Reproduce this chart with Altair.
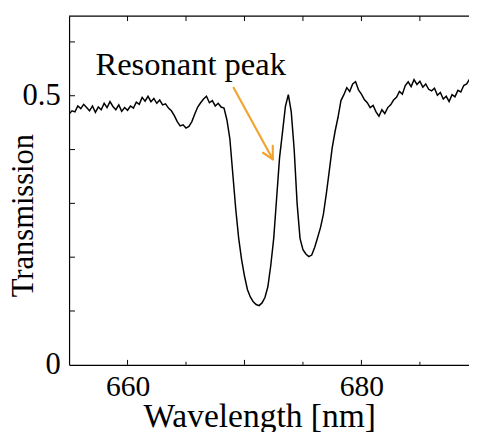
import altair as alt
import pandas as pd

# ---- data ----
wavelength = [
    655.00, 655.25, 655.50, 655.75, 656.00, 656.25, 656.50, 656.75,
    657.00, 657.25, 657.50, 657.75, 658.00, 658.25, 658.50, 658.75,
    659.00, 659.25, 659.50, 659.75, 660.00, 660.25, 660.50, 660.75,
    661.00, 661.25, 661.50, 661.75, 662.00, 662.25, 662.50, 662.75,
    663.00, 663.25, 663.50, 663.75, 664.00, 664.25, 664.50, 664.75,
    665.00, 665.25, 665.50, 665.75, 666.00, 666.25, 666.50, 666.75,
    667.00, 667.25, 667.50, 667.75, 668.00, 668.25, 668.50, 668.75,
    669.00, 669.25, 669.50, 669.75, 670.00, 670.25, 670.50, 670.75,
    671.00, 671.25, 671.50, 671.75, 672.00, 672.25, 672.50, 672.75,
    673.00, 673.25, 673.50, 673.75, 674.00, 674.25, 674.50, 674.75,
    675.00, 675.25, 675.50, 675.75, 676.00, 676.25, 676.50, 676.75,
    677.00, 677.25, 677.50, 677.75, 678.00, 678.25, 678.50, 678.75,
    679.00, 679.25, 679.50, 679.75, 680.00, 680.25, 680.50, 680.75,
    681.00, 681.25, 681.50, 681.75, 682.00, 682.25, 682.50, 682.75,
    683.00, 683.25, 683.50, 683.75, 684.00, 684.25, 684.50, 684.75,
    685.00, 685.25, 685.50, 685.75, 686.00, 686.25, 686.50, 686.75,
    687.00, 687.25, 687.50, 687.75, 688.00, 688.25, 688.50, 688.75,
    689.00, 689.25,
]
transmission = [
    0.466, 0.472, 0.470, 0.481, 0.476, 0.484, 0.478, 0.472,
    0.481, 0.469, 0.479, 0.474, 0.486, 0.478, 0.489, 0.480,
    0.474, 0.483, 0.471, 0.478, 0.473, 0.481, 0.477, 0.488,
    0.484, 0.497, 0.490, 0.499, 0.489, 0.495, 0.486, 0.492,
    0.483, 0.485, 0.477, 0.472, 0.463, 0.452, 0.444, 0.446,
    0.440, 0.443, 0.452, 0.466, 0.479, 0.487, 0.494, 0.499,
    0.487, 0.491, 0.481, 0.486, 0.479, 0.477, 0.455, 0.420,
    0.355, 0.290, 0.236, 0.196, 0.165, 0.140, 0.126, 0.117,
    0.112, 0.110, 0.115, 0.125, 0.145, 0.185, 0.235, 0.310,
    0.385, 0.432, 0.480, 0.502, 0.470, 0.400, 0.300, 0.235,
    0.214, 0.206, 0.201, 0.204, 0.218, 0.236, 0.255, 0.280,
    0.318, 0.360, 0.403, 0.434, 0.460, 0.491, 0.502, 0.515,
    0.508, 0.522, 0.526, 0.511, 0.503, 0.493, 0.487, 0.478,
    0.482, 0.470, 0.462, 0.474, 0.467, 0.478, 0.483, 0.492,
    0.497, 0.508, 0.503, 0.519, 0.526, 0.517, 0.530, 0.521,
    0.527, 0.516, 0.522, 0.512, 0.509, 0.514, 0.501, 0.506,
    0.494, 0.499, 0.489, 0.502, 0.498, 0.510, 0.507, 0.519,
    0.522, 0.531,
]

x_labels = [660, 680]
x_major = [660, 670, 680]
x_minor = [665, 675, 685]
x_top = [660, 665, 670, 675, 680, 685]
y_labels = [0, 0.5]
y_ticks = [0.1, 0.2, 0.3, 0.4, 0.5, 0.6]

annotation_text = "Resonant peak"
annotation_pos = (665.4, 0.538)
# arrow segments: shaft + two head wings (wavelength, transmission)
arrow_x = [669.07, 671.58, 672.42]
arrow_y = [0.515, 0.394, 0.407]
arrow_x2 = [672.42, 672.42, 672.42]
arrow_y2 = [0.382, 0.382, 0.382]

X_DOMAIN = [655, 689.2]
Y_DOMAIN = [0, 0.648]
W, H = 406, 354
FONT = "Liberation Serif"
ORANGE = "#F2A430"

df = pd.DataFrame({"wavelength": wavelength, "transmission": transmission})

xs = alt.Scale(domain=X_DOMAIN, nice=False, zero=False)
ys = alt.Scale(domain=Y_DOMAIN, nice=False, zero=False)

x_enc = alt.X(
    "wavelength:Q", scale=xs,
    axis=alt.Axis(
        values=x_labels, format="d", tickSize=0, grid=False,
        domainColor="black", domainWidth=1.2,
        labelFont=FONT, labelFontSize=30, labelColor="black", labelPadding=7,
        title="Wavelength [nm]", titleFont=FONT, titleFontSize=34,
        titleFontWeight="normal", titleColor="black",
        titleX=193, titleY=63, titleBaseline="alphabetic", titleAlign="center",
    ),
)
y_enc = alt.Y(
    "transmission:Q", scale=ys,
    axis=alt.Axis(
        values=y_labels, format=".1~f", tickSize=0, grid=False,
        domainColor="black", domainWidth=1.2,
        labelFont=FONT, labelFontSize=31, labelColor="black", labelPadding=9,
        title="Transmission", titleFont=FONT, titleFontSize=31,
        titleFontWeight="normal", titleColor="black",
        titleAngle=270, titleX=-37, titleY=202,
        titleBaseline="alphabetic", titleAlign="center",
    ),
)

line = alt.Chart(df).mark_line(color="black", strokeWidth=1.5, clip=True).encode(
    x=x_enc, y=y_enc
)

# inward ticks
bottom_major = alt.Chart(pd.DataFrame({"t": x_major})).mark_rule(
    color="black", strokeWidth=1).encode(
    x=alt.X("t:Q", scale=xs), y=alt.value(H), y2=alt.value(H - 5))
bottom_minor = alt.Chart(pd.DataFrame({"t": x_minor})).mark_rule(
    color="black", strokeWidth=1).encode(
    x=alt.X("t:Q", scale=xs), y=alt.value(H), y2=alt.value(H - 3))
top_ticks = alt.Chart(pd.DataFrame({"t": x_top})).mark_rule(
    color="black", strokeWidth=1).encode(
    x=alt.X("t:Q", scale=xs), y=alt.value(0), y2=alt.value(5))
left_ticks = alt.Chart(pd.DataFrame({"v": y_ticks})).mark_rule(
    color="black", strokeWidth=1).encode(
    y=alt.Y("v:Q", scale=ys), x=alt.value(0), x2=alt.value(6))
top_border = alt.Chart(pd.DataFrame({"a": [0]})).mark_rule(
    color="black", strokeWidth=1.2).encode(
    x=alt.value(0), x2=alt.value(W), y=alt.value(0))

annot = alt.Chart(pd.DataFrame({
    "x": [annotation_pos[0]], "y": [annotation_pos[1]], "label": [annotation_text]
})).mark_text(font=FONT, fontSize=33, color="black", align="center",
              baseline="alphabetic").encode(
    x=alt.X("x:Q", scale=xs), y=alt.Y("y:Q", scale=ys), text="label:N")

arrow = alt.Chart(pd.DataFrame({
    "x": arrow_x, "y": arrow_y, "x2": arrow_x2, "y2": arrow_y2
})).mark_rule(color=ORANGE, strokeWidth=2.2, strokeCap="round").encode(
    x=alt.X("x:Q", scale=xs), y=alt.Y("y:Q", scale=ys),
    x2="x2:Q", y2="y2:Q")

chart = alt.layer(
    line, bottom_major, bottom_minor, top_ticks, left_ticks, top_border,
    annot, arrow,
).properties(
    width=W, height=H,
    autosize=alt.AutoSizeParams(type="none"),
    padding={"left": 62, "top": 5, "right": 0, "bottom": 65},
).configure_view(strokeWidth=0, stroke="transparent")

chart.save("out.html", embed_options={"renderer": "svg", "actions": False})
